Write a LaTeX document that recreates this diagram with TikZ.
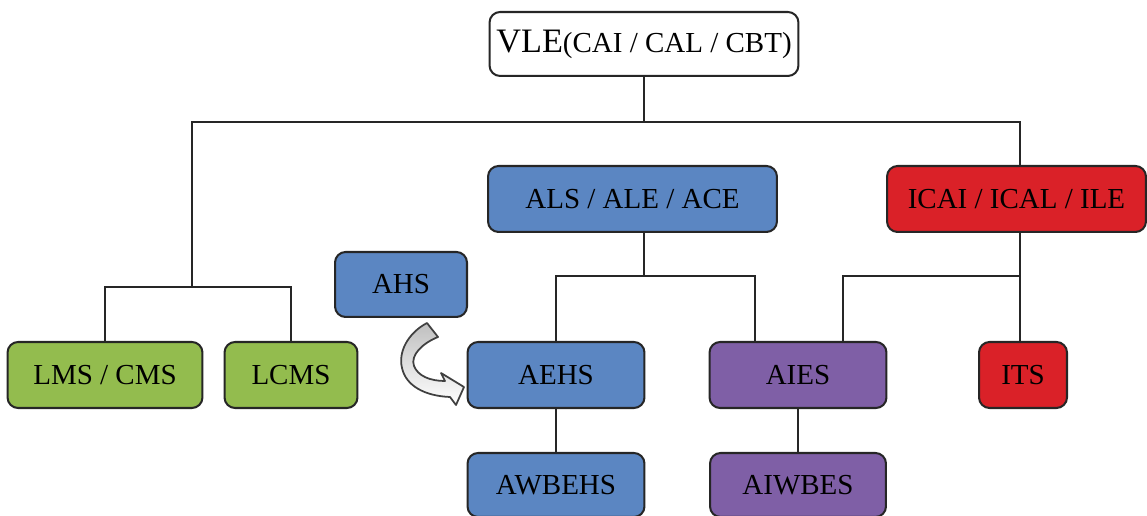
\documentclass[tikz,border=0pt]{standalone}
\usepackage{fontspec}
\setmainfont{Liberation Serif}
\definecolor{boxblue}{HTML}{5B86C2}
\definecolor{boxgreen}{HTML}{93BC4E}
\definecolor{boxpurple}{HTML}{7F5FA6}
\definecolor{boxred}{HTML}{DA2128}
\begin{document}
\begin{tikzpicture}[x=0.02cm,y=-0.02cm,
  box/.style={draw=black!85, line width=1.15pt, rounded corners=6pt, inner sep=0pt,
    font=\fontsize{16.5}{18}\selectfont, text=black},
  blue box/.style={box, fill=boxblue},
  green box/.style={box, fill=boxgreen},
  purple box/.style={box, fill=boxpurple},
  red box/.style={box, fill=boxred},
  link/.style={draw=black!85, line width=1.2pt},
  hint arrow/.style={draw=black!75, line width=1pt, line join=round,
    top color=gray!50, middle color=white, bottom color=white}]
\useasboundingbox (0,0) rectangle (1147,516);
\clip (0,0) rectangle (1147,516);

% boxes
\node[box, fill=white, minimum width=6.18cm, minimum height=1.28cm] (vle) at (644,44)
  {{\fontsize{19.5}{20}\selectfont VLE}(CAI / CAL / CBT)};
\node[blue box, minimum width=5.78cm, minimum height=1.32cm] (als) at (632.5,199) {ALS / ALE / ACE};
\node[red box, minimum width=5.18cm, minimum height=1.32cm] (icai) at (1016.5,199) {ICAI / ICAL / ILE};
\node[blue box, minimum width=2.64cm, minimum height=1.30cm] (ahs) at (401,284.5) {AHS};
\node[green box, minimum width=3.9cm, minimum height=1.32cm] (lms) at (105,375) {LMS / CMS};
\node[green box, minimum width=2.66cm, minimum height=1.32cm] (lcms) at (291,375) {LCMS};
\node[blue box, minimum width=3.54cm, minimum height=1.32cm] (aehs) at (556,375) {AEHS};
\node[purple box, minimum width=3.54cm, minimum height=1.32cm] (aies) at (798,375) {AIES};
\node[red box, minimum width=1.76cm, minimum height=1.32cm] (its) at (1023,375) {ITS};
\node[blue box, minimum width=3.54cm, minimum height=1.28cm] (awbehs) at (556,485) {AWBEHS};
\node[purple box, minimum width=3.52cm, minimum height=1.28cm] (aiwbes) at (798,485) {AIWBES};

% junctions of the connector buses
\coordinate (busL) at (192,122);
\coordinate (busR) at (1020,122);
\coordinate (lmsbus) at (192,287);
\coordinate (alsbus) at (644,276);
\coordinate (aiesL) at (755,276);
\coordinate (aiesR) at (843,276);

% top level
\draw[link] (vle.south) -- (vle.south |- busL);
\draw[link] (lmsbus) -- (busL) -- (busR) -- (busR |- icai.north);
% learning management branch
\draw[link] (lms.north) -- (lms.north |- lmsbus) -- (lcms.north |- lmsbus) -- (lcms.north);
% adaptive branch
\draw[link] (alsbus |- als.south) -- (alsbus);
\draw[link] (aehs.north) -- (aehs.north |- alsbus) -- (aiesL) -- (aiesL |- aies.north);
\draw[link] (aehs.south) -- (awbehs.north);
\draw[link] (aies.south) -- (aiwbes.north);
% intelligent branch
\draw[link] (busR |- icai.south) -- (busR |- its.north);
\draw[link] (aiesR |- aies.north) -- (aiesR) -- (busR |- aiesR);

% curved hint arrow from AHS into AEHS
\path[hint arrow]
  (427,323) .. controls (408,333) and (398,352) .. (402,368)
  .. controls (406,386) and (425,396) .. (450,397)
  -- (456,405) -- (464,387) -- (441,373) -- (445,381)
  .. controls (430,381) and (418,376) .. (414,366)
  .. controls (410,355) and (423,343) .. (438,337)
  -- cycle;
\end{tikzpicture}
\end{document}
